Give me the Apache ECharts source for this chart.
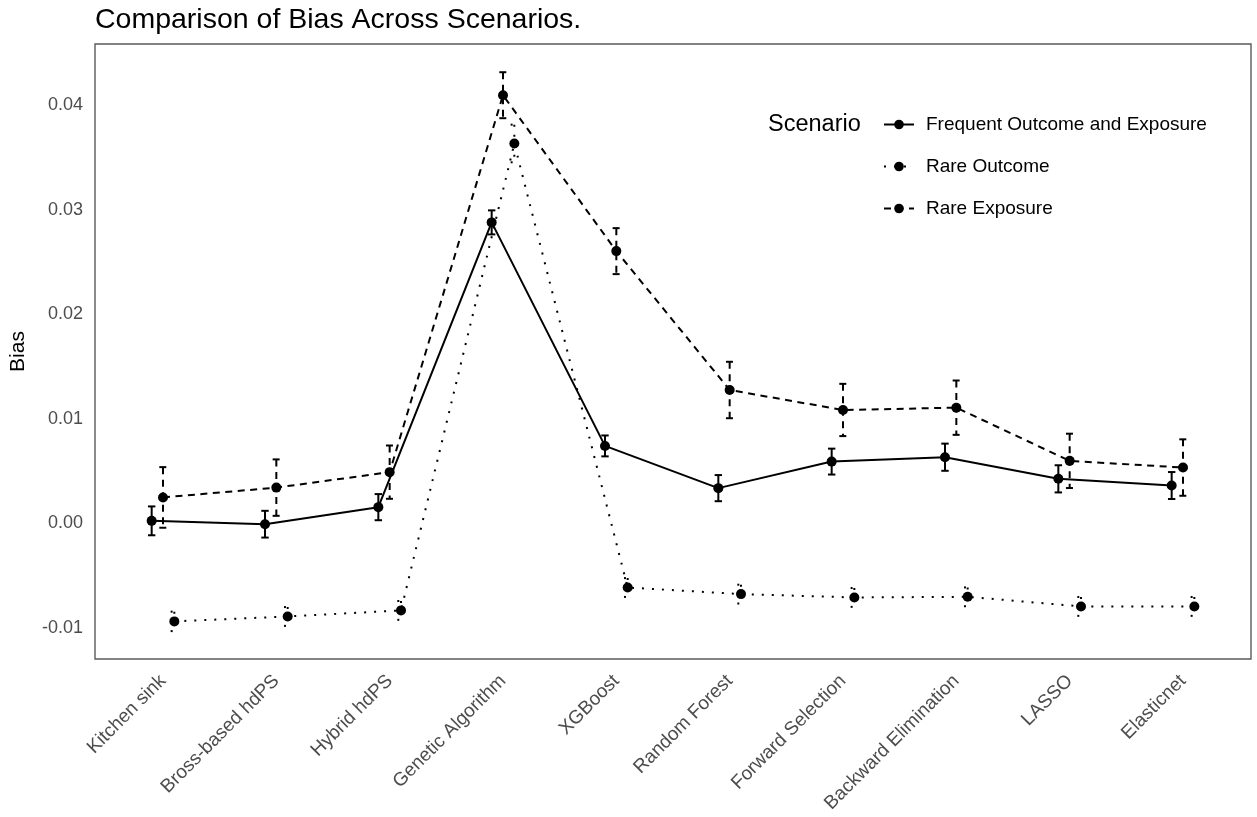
<!DOCTYPE html>
<html>
<head>
<meta charset="utf-8">
<script src="https://cdn.jsdelivr.net/npm/echarts@6/dist/echarts.min.js"></script>
<style>
  html, body { margin: 0; padding: 0; background: #fff; }
  #biasChart { width: 1257px; height: 817px; }
</style>
</head>
<body>
<div id="biasChart"></div>
<script>
// 方法名
var categories = ['Kitchen sink', 'Bross-based hdPS', 'Hybrid hdPS', 'Genetic Algorithm', 'XGBoost',
  'Random Forest', 'Forward Selection', 'Backward Elimination', 'LASSO', 'Elasticnet'];

// 各场景的 bias 和误差
var freqBias = [0.00022, -0.0001, 0.00153, 0.02878, 0.00739, 0.00335, 0.00589, 0.00631, 0.00424, 0.00360];
var freqErr = [0.00138, 0.00128, 0.00125, 0.00115, 0.0010, 0.00125, 0.00124, 0.0013, 0.0013, 0.00129];
var rareOutBias = [-0.0094, -0.00893, -0.00835, 0.03633, -0.00616, -0.00679, -0.00711, -0.00705, -0.00797, -0.00797];
var rareOutErr = [0.00093, 0.0009, 0.0009, 0.0018, 0.0009, 0.0009, 0.0009, 0.0009, 0.0009, 0.0009];
var rareExpBias = [0.00246, 0.0034, 0.00488, 0.04095, 0.02603, 0.01274, 0.01083, 0.01105, 0.00596, 0.00532];
var rareExpErr = [0.0029, 0.0027, 0.00255, 0.0022, 0.0022, 0.0027, 0.0025, 0.0026, 0.0026, 0.0027];

var yTicks = [-0.01, 0.00, 0.01, 0.02, 0.03, 0.04];

var chart = echarts.init(document.getElementById('biasChart'));

var FONT = 'Liberation Sans, Arial, sans-serif';
var DASHED = [7, 5.5];
var DOTTED = [2, 8];

function points(bias, off) {
  return bias.map(function(v, i) { return [i + 1 + off, v]; });
}

function lineSeries(name, bias, off, type) {
  return {
    name: name,
    type: 'line',
    data: points(bias, off),
    symbol: 'circle',
    symbolSize: 10,
    showSymbol: true,
    color: '#000',
    itemStyle: { color: '#000' },
    lineStyle: { color: '#000', width: 2, type: type },
    z: 3,
    animation: false
  };
}

// 误差线，线型跟随场景
function errSeries(name, bias, err, off, dash) {
  return {
    name: name,
    type: 'custom',
    data: bias.map(function(v, i) { return [i + 1 + off, v - err[i], v + err[i]]; }),
    encode: { x: 0, y: [1, 2] },
    z: 2,
    animation: false,
    renderItem: function(params, api) {
      var x = api.value(0);
      var top = api.coord([x, api.value(2)]);
      var bot = api.coord([x, api.value(1)]);
      var hw = 3.7;
      var st = { stroke: '#000', lineWidth: 2, lineDash: dash, fill: null };
      return {
        type: 'group',
        children: [
          { type: 'line', shape: { x1: top[0] - hw, y1: top[1], x2: top[0] + hw, y2: top[1] }, style: st },
          { type: 'line', shape: { x1: top[0], y1: top[1], x2: bot[0], y2: bot[1] }, style: st },
          { type: 'line', shape: { x1: bot[0] - hw, y1: bot[1], x2: bot[0] + hw, y2: bot[1] }, style: st }
        ]
      };
    }
  };
}

var option = {
  animation: false,
  backgroundColor: '#fff',
  title: {
    text: 'Comparison of Bias Across Scenarios.',
    left: 95,
    top: 6,
    padding: 0,
    textStyle: { color: '#000', fontSize: 28.5, fontWeight: 'normal', fontFamily: FONT }
  },
  grid: {
    left: 95, top: 44, width: 1156, height: 615,
    show: true, borderColor: '#5a5a5a', borderWidth: 1.4, backgroundColor: 'transparent'
  },
  legend: {
    data: ['Frequent Outcome and Exposure', 'Rare Outcome', 'Rare Exposure'],
    orient: 'vertical',
    left: 878,
    top: 110,
    itemWidth: 30,
    itemHeight: 12,
    itemGap: 23,
    selectedMode: false,
    textStyle: { color: '#000', fontSize: 19, fontFamily: FONT, padding: [0, 0, 0, 7] }
  },
  graphic: [{
    type: 'text',
    left: 768,
    top: 113,
    style: { text: 'Scenario', fill: '#000', fontSize: 23.5, fontFamily: FONT }
  }],
  xAxis: {
    type: 'value',
    min: 0.4,
    max: 10.6,
    splitLine: { show: false },
    axisLine: { show: false },
    axisTick: { show: false },
    axisLabel: {
      customValues: categories.map(function(c, i) { return i + 1; }),
      formatter: function(v) { return categories[Math.round(v) - 1] || ''; },
      rotate: 45,
      margin: 19,
      color: '#4d4d4d',
      fontSize: 19,
      fontFamily: FONT
    }
  },
  yAxis: {
    type: 'value',
    min: -0.013,
    max: 0.04585,
    name: 'Bias',
    nameLocation: 'middle',
    nameRotate: 90,
    nameGap: 66,
    nameTextStyle: { color: '#000', fontSize: 21, fontFamily: FONT },
    splitLine: { show: false },
    axisLine: { show: false },
    axisTick: { show: false },
    axisLabel: {
      customValues: yTicks,
      formatter: function(v) { return v.toFixed(2); },
      margin: 12,
      color: '#4d4d4d',
      fontSize: 18,
      fontFamily: FONT
    }
  },
  series: [
    lineSeries('Frequent Outcome and Exposure', freqBias, -0.1, 'solid'),
    lineSeries('Rare Outcome', rareOutBias, 0.1, DOTTED),
    lineSeries('Rare Exposure', rareExpBias, 0, DASHED),
    errSeries('err-freq', freqBias, freqErr, -0.1, null),
    errSeries('err-out', rareOutBias, rareOutErr, 0.1, DOTTED),
    errSeries('err-exp', rareExpBias, rareExpErr, 0, DASHED)
  ]
};

chart.setOption(option);
</script>
</body>
</html>
